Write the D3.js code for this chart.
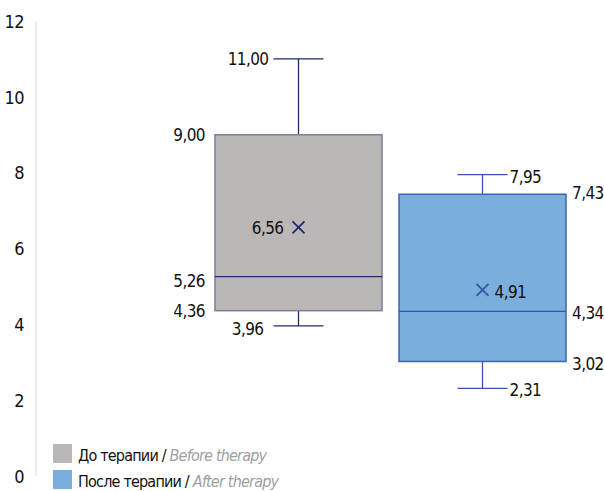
<!DOCTYPE html>
<html><head><meta charset="utf-8">
<script src="https://cdn.jsdelivr.net/npm/d3@7"></script>
<style>
body{margin:0;background:#fff;}
text{font-family:"DejaVu Sans Condensed","DejaVu Sans",sans-serif;font-stretch:condensed;}
</style></head><body>
<svg id="c" width="604" height="491"></svg>
<script>
const groups = ["До терапии", "После терапии"];
const groupsEn = ["Before therapy", "After therapy"];
const mins = [3.96, 2.31];
const q1s = [4.36, 3.02];
const medians = [5.26, 4.34];
const q3s = [9.00, 7.43];
const maxs = [11.00, 7.95];
const means = [6.56, 4.91];
const yTicks = [0, 2, 4, 6, 8, 10, 12];

const fills = ["#bcb7b7", "#7aaedc"];
const strokes = ["#7b7f9a", "#3f63b5"];
const whisk = ["#1f2a6b", "#3656a8"];
const fmt = v => v.toFixed(2).replace(".", ",");

const svg = d3.select("#c");
const y = d3.scaleLinear().domain([0, 12]).range([476, 21]);
const x = d3.scaleBand().domain(groups).range([215, 566]).paddingInner(17 / 184).paddingOuter(0);

svg.append("line").attr("x1", 36).attr("x2", 36).attr("y1", y(12)).attr("y2", y(0))
  .attr("stroke", "#d9d9d9").attr("stroke-width", 1);
const yAxis = d3.axisLeft(y).tickValues(yTicks).tickSize(0).tickPadding(0).tickFormat(d3.format("d"));
const ga = svg.append("g").attr("transform", "translate(24,0)").call(yAxis);
ga.select(".domain").remove();
ga.selectAll("text").attr("font-size", 18).attr("fill", "#111").attr("dy", "0.35em")
  .attr("letter-spacing", -0.5).attr("font-family", null);

const fs = 17;
groups.forEach((g, i) => {
  const x0 = x(g), w = x.bandwidth(), cx = x0 + w / 2;
  const gg = svg.append("g");
  gg.append("line").attr("x1", cx).attr("x2", cx).attr("y1", y(maxs[i])).attr("y2", y(q3s[i]))
    .attr("stroke", whisk[i]).attr("stroke-width", 1.3);
  gg.append("line").attr("x1", cx).attr("x2", cx).attr("y1", y(q1s[i])).attr("y2", y(mins[i]))
    .attr("stroke", whisk[i]).attr("stroke-width", 1.3);
  [maxs[i], mins[i]].forEach(v => {
    gg.append("line").attr("x1", cx - 25).attr("x2", cx + 25).attr("y1", y(v)).attr("y2", y(v))
      .attr("stroke", whisk[i]).attr("stroke-width", 1.3);
  });
  gg.append("rect").attr("x", x0).attr("y", y(q3s[i])).attr("width", w)
    .attr("height", y(q1s[i]) - y(q3s[i])).attr("fill", fills[i])
    .attr("stroke", strokes[i]).attr("stroke-width", 1.5);
  gg.append("line").attr("x1", x0).attr("x2", x0 + w).attr("y1", y(medians[i])).attr("y2", y(medians[i]))
    .attr("stroke", whisk[i]).attr("stroke-width", 1.3);
  const my = y(means[i]), s = 6;
  gg.append("path").attr("d", `M${cx - s},${my - s}L${cx + s},${my + s}M${cx - s},${my + s}L${cx + s},${my - s}`)
    .attr("stroke", whisk[i]).attr("stroke-width", 1.8).attr("fill", "none");

  const lab = (tx, ty, v, anchor) => gg.append("text").attr("x", tx).attr("y", ty).attr("dy", "0.35em")
    .attr("text-anchor", anchor).attr("font-size", fs).attr("letter-spacing", -0.6)
    .attr("fill", "#111").text(fmt(v));
  if (i === 0) {
    lab(cx - 30, y(maxs[i]), maxs[i], "end");
    lab(x0 - 10, y(q3s[i]), q3s[i], "end");
    lab(x0 - 10, y(medians[i]) + 4, medians[i], "end");
    lab(x0 - 10, y(q1s[i]), q1s[i], "end");
    lab(cx - 35, y(mins[i]) + 3, mins[i], "end");
    lab(cx - 15, my + 1, means[i], "end");
  } else {
    lab(cx + 27, y(maxs[i]) + 2, maxs[i], "start");
    lab(x0 + w + 6, y(q3s[i]) - 1, q3s[i], "start");
    lab(x0 + w + 6, y(medians[i]) + 2, medians[i], "start");
    lab(x0 + w + 6, y(q1s[i]) + 3, q1s[i], "start");
    lab(cx + 27, y(mins[i]) + 2, mins[i], "start");
    lab(cx + 12, my + 2, means[i], "start");
  }
});

groups.forEach((g, i) => {
  const ly = 444 + i * 26;
  svg.append("rect").attr("x", 53).attr("y", ly).attr("width", 19).attr("height", 19).attr("fill", fills[i]);
  const t = svg.append("text").attr("x", 78).attr("y", ly + 17).attr("font-size", 16)
    .attr("letter-spacing", -0.8).attr("fill", "#111");
  t.append("tspan").text(g + " / ");
  t.append("tspan").attr("font-style", "italic").attr("fill", "#a0a0a0").text(groupsEn[i]);
});
</script>
</body></html>
